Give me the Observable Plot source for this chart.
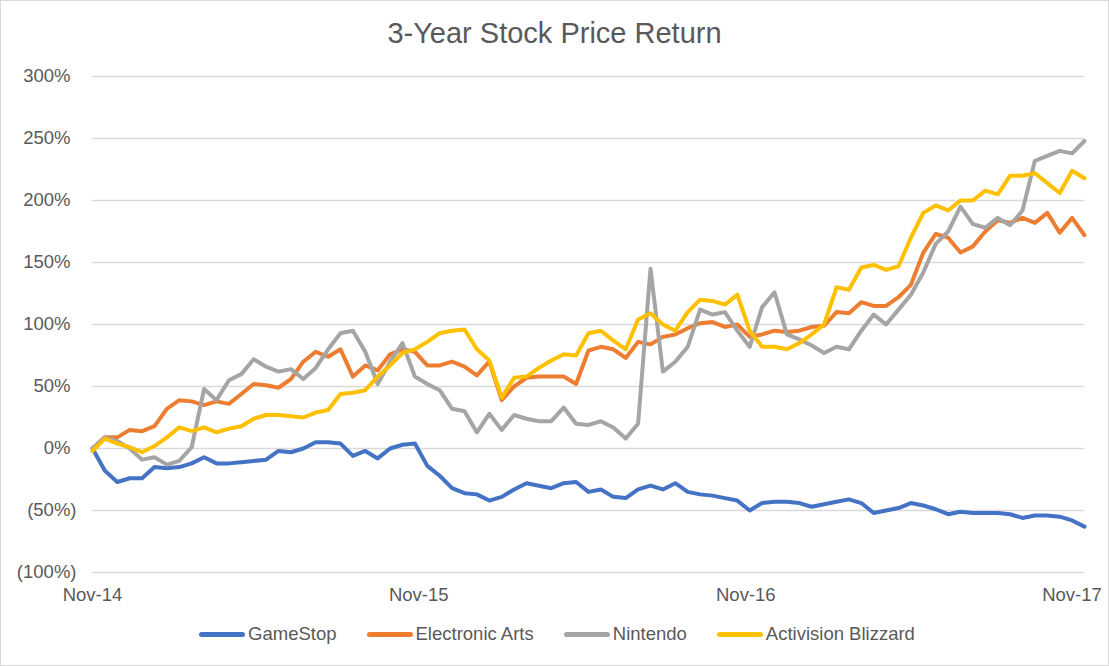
<!DOCTYPE html>
<html>
<head>
<meta charset="utf-8">
<script src="https://cdn.jsdelivr.net/npm/d3@7"></script>
<script src="https://cdn.jsdelivr.net/npm/@observablehq/plot@0.6"></script>
<style>
html, body { margin: 0; padding: 0; background: #fff; }
#chart { position: relative; width: 1109px; height: 666px; overflow: hidden; background: #fff;
  font-family: "Liberation Sans", Arial, sans-serif; color: #595959; }
#frame { position: absolute; left: 0; top: 0; width: 1107px; height: 664px; border: 1px solid #d9d9d9; pointer-events: none; }
#title { position: absolute; left: 0; top: 19px; width: 1109px; text-align: center; font-size: 29px; line-height: 29px; }
#plot { position: absolute; left: 0; top: 60px; }
#legend { position: absolute; left: 0; top: 625px; width: 1109px; box-sizing: border-box; padding-left: 5px;
  display: flex; justify-content: center; align-items: center; font-size: 18.5px; line-height: 18.5px; }
.item { display: flex; align-items: center; margin: 0 15px; white-space: nowrap; }
.sw { width: 46px; height: 5px; border-radius: 2.5px; margin-right: 3px; }
</style>
</head>
<body>
<div id="chart">
  <div id="title">3-Year Stock Price Return</div>
  <div id="plot"></div>
  <div id="legend"></div>
  <div id="frame"></div>
</div>
<script>
const series = ["GameStop", "Electronic Arts", "Nintendo", "Activision Blizzard"];
const colors = ["#4472C4", "#ED7D31", "#A5A5A5", "#FFC000"];

// Return (%) sampled roughly every two weeks from Nov-14 to late Nov-17
const gamestop = [0,-18,-27,-24,-24,-15,-16,-15,-12,-7, -12,-12,-11,-10,-9,-2,-3,0,5,5,
  4,-6,-2,-8,0,3,4,-14,-22,-32, -36,-37,-42,-39,-33,-28,-30,-32,-28,-27,
  -35,-33,-39,-40,-33,-30,-33,-28,-35,-37, -38,-40,-42,-50,-44,-43,-43,-44,-47,-45,
  -43,-41,-44,-52,-50,-48,-44,-46,-49,-53, -51,-52,-52,-52,-53,-56,-54,-54,-55,-58, -63];
const electronicArts = [0,9,9,15,14,18,32,39,38,35, 38,36,44,52,51,49,56,70,78,74,
  80,58,67,63,76,80,78,67,67,70, 66,59,70,39,50,57,58,58,58,52,
  79,82,80,73,86,84,90,92,97,101, 102,98,100,90,92,95,94,95,98,99,
  110,109,118,115,115,122,132,158,173,170, 158,163,175,184,182,186,182,190,174,186, 172];
const nintendo = [0,9,6,0,-9,-7,-13,-10,1,48, 39,55,60,72,66,62,64,56,65,80,
  93,95,78,52,70,85,58,52,47,32, 30,13,28,15,27,24,22,22,33,20,
  19,22,17,8,20,145,62,70,82,112, 108,110,95,82,114,126,92,88,83,77,
  82,80,95,108,100,112,124,142,165,175, 195,181,178,186,180,192,232,236,240,238, 248];
const activision = [-2,8,4,1,-3,2,9,17,14,17, 13,16,18,24,27,27,26,25,29,31,
  44,45,47,58,67,77,80,86,93,95, 96,80,71,41,57,58,65,71,76,75,
  93,95,87,80,104,109,100,95,110,120, 119,116,124,95,82,82,80,85,92,100,
  130,128,146,148,144,147,170,190,196,192, 200,200,208,205,220,220,222,214,206,224, 218];

const startDate = "2014-11-14";
const endDate = "2017-11-28";
const tickDates = ["2014-11-14", "2015-11-14", "2016-11-14", "2017-11-14"];
const tickLabels = ["Nov-14", "Nov-15", "Nov-16", "Nov-17"];
const yTicks = [-100, -50, 0, 50, 100, 150, 200, 250, 300];

const t0 = new Date(startDate), t1 = new Date(endDate);
const n = gamestop.length;
const dates = d3.range(n).map(i => new Date(+t0 + i * (t1 - t0) / (n - 1)));
const data = [];
[gamestop, electronicArts, nintendo, activision].forEach((vals, k) =>
  vals.forEach((v, i) => data.push({date: dates[i], value: v, series: series[k]})));

const fmt = v => v < 0 ? `(${-v}%)` : `${v}%`;
const xTicks = tickDates.map(s => new Date(s));
const xFmt = d => tickLabels[xTicks.findIndex(t => +t === +d)];

const chart = Plot.plot({
  width: 1109,
  height: 550,
  marginLeft: 92,
  marginRight: 25,
  marginTop: 16,
  marginBottom: 38,
  style: {fontFamily: '"Liberation Sans", Arial, sans-serif', fontSize: "18.5px", color: "#595959", background: "white", overflow: "visible"},
  x: {type: "utc", domain: [t0, t1], label: null},
  y: {domain: [-100, 300], label: null},
  color: {domain: series, range: colors},
  marks: [
    Plot.gridY(yTicks, {stroke: "#d9d9d9", strokeOpacity: 1, strokeWidth: 1.5}),
    Plot.axisY(yTicks.filter(v => v >= 0), {tickSize: 0, tickPadding: 22, tickFormat: fmt, label: null}),
    Plot.axisY(yTicks.filter(v => v < 0), {tickSize: 0, tickPadding: 16, tickFormat: fmt, label: null}),
    Plot.axisX(xTicks, {tickSize: 0, tickPadding: 15, tickFormat: xFmt, label: null}),
    Plot.line(data, {x: "date", y: "value", z: "series", stroke: "series", strokeWidth: 4,
      strokeLinejoin: "round", strokeLinecap: "round"})
  ]
});
document.getElementById("plot").appendChild(chart);

const legend = document.getElementById("legend");
series.forEach((s, k) => {
  const item = document.createElement("div");
  item.className = "item";
  const sw = document.createElement("div");
  sw.className = "sw";
  sw.style.background = colors[k];
  const label = document.createElement("span");
  label.textContent = s;
  item.appendChild(sw);
  item.appendChild(label);
  legend.appendChild(item);
});
</script>
</body>
</html>
